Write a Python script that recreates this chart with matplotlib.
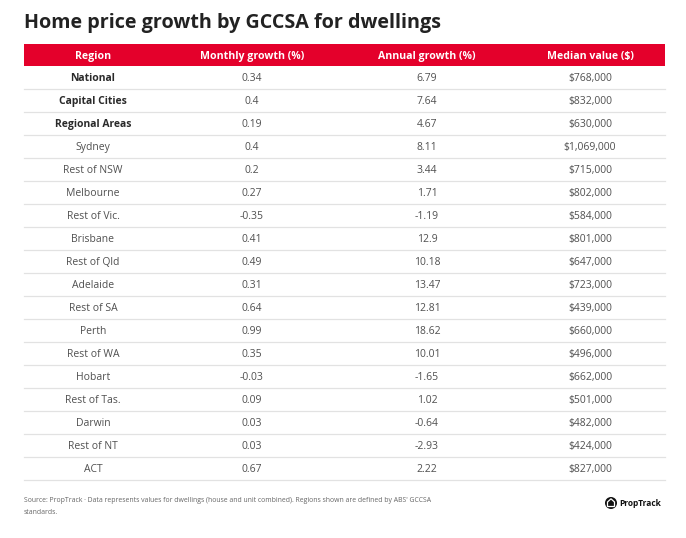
import matplotlib.pyplot as plt
import matplotlib.patches as mpatches

# ── Data ──────────────────────────────────────────────────────────────────────
headers = ["Region", "Monthly growth (%)", "Annual growth (%)", "Median value ($)"]
regions = ["National", "Capital Cities", "Regional Areas", "Sydney", "Rest of NSW",
           "Melbourne", "Rest of Vic.", "Brisbane", "Rest of Qld", "Adelaide",
           "Rest of SA", "Perth", "Rest of WA", "Hobart", "Rest of Tas.",
           "Darwin", "Rest of NT", "ACT"]
monthly = ["0.34", "0.4", "0.19", "0.4", "0.2", "0.27", "-0.35", "0.41", "0.49",
           "0.31", "0.64", "0.99", "0.35", "-0.03", "0.09", "0.03", "0.03", "0.67"]
annual = ["6.79", "7.64", "4.67", "8.11", "3.44", "1.71", "-1.19", "12.9", "10.18",
          "13.47", "12.81", "18.62", "10.01", "-1.65", "1.02", "-0.64", "-2.93", "2.22"]
median = ["$768,000", "$832,000", "$630,000", "$1,069,000", "$715,000", "$802,000",
          "$584,000", "$801,000", "$647,000", "$723,000", "$439,000", "$660,000",
          "$496,000", "$662,000", "$501,000", "$482,000", "$424,000", "$827,000"]
bold_rows = {"National", "Capital Cities", "Regional Areas"}

# ── Style ─────────────────────────────────────────────────────────────────────
RED = "#e4002b"
TEXT = "#505050"
LINE = "#e2e2e2"
FONT = ["Open Sans", "DejaVu Sans"]

W, H = 686, 538
fig = plt.figure(figsize=(W / 100, H / 100), dpi=100)
ax = fig.add_axes([0, 0, 1, 1])
ax.set_xlim(0, W)
ax.set_ylim(H, 0)
ax.axis("off")

left, right = 24, 665
col_x = [93, 252, 427, 590]
head_top, head_h = 44, 22
row_h = 23
base = 3.8  # baseline offset below row centre

ax.text(24, 28, "Home price growth by GCCSA for dwellings", fontsize=14.2,
        fontweight="bold", color="#222222", va="baseline", ha="left", family=FONT)

# header band
ax.add_patch(mpatches.Rectangle((left, head_top), right - left, head_h,
                                color=RED, lw=0))
for x, h in zip(col_x, headers):
    ax.text(x, head_top + head_h / 2 + base, h, fontsize=7.6, fontweight="bold",
            color="white", ha="center", va="baseline", family=FONT)

# rows
y0 = head_top + head_h
for i, row in enumerate(zip(regions, monthly, annual, median)):
    yb = y0 + row_h * (i + 0.5) + base
    for j, (x, val) in enumerate(zip(col_x, row)):
        bold = j == 0 and row[0] in bold_rows
        ax.text(x, yb, val, fontsize=7.5, fontweight="bold" if bold else "normal",
                color="#2a2a2a" if bold else TEXT,
                ha="center", va="baseline", family=FONT)
    ax.plot([left, right], [y0 + row_h * (i + 1)] * 2, color=LINE, lw=0.9)

# footer
ax.text(24, 502.5, "Source: PropTrack · Data represents values for dwellings (house and unit "
        "combined). Regions shown are defined by ABS' GCCSA", fontsize=4.95,
        color="#666666", va="baseline", ha="left", family=FONT)
ax.text(24, 513.5, "standards.", fontsize=4.95, color="#666666", va="baseline",
        ha="left", family=FONT)

# PropTrack logo
ax.add_patch(mpatches.Circle((611, 503), 6, color="#111111", lw=0))
ax.add_patch(mpatches.Polygon([(607.5, 506.5), (607.5, 502), (611, 498.8),
                               (614.5, 502), (614.5, 506.5)],
                              closed=True, fill=False, ec="white", lw=0.9))
ax.text(619, 506, "PropTrack", fontsize=6, fontweight="bold", color="#111111",
        va="baseline", ha="left", family=FONT)

fig.savefig("out.png", dpi=100, facecolor="white")
